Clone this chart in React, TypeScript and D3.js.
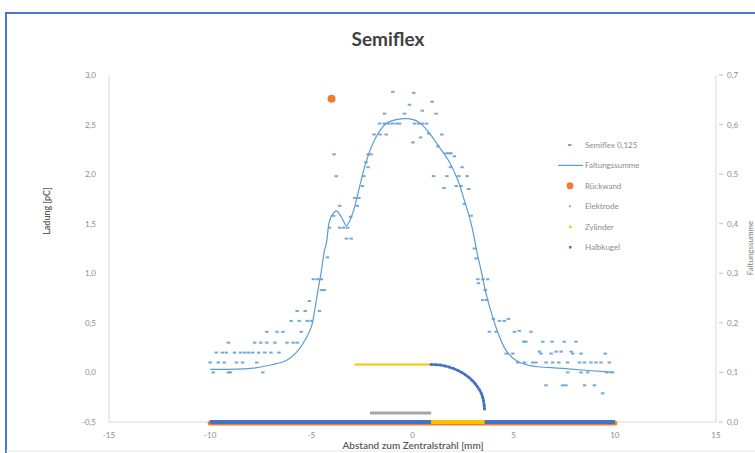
import React from 'react';
import * as d3 from 'd3';

// Semiflex 0,125 measured points
const measX = [
  -9.85, -9.1, -9.0, -7.4,
  -10, -9.6, -9.3, -8.7, -8.4, -7.7,
  -9.7, -9.4, -9.2, -8.8, -8.5, -8.3, -8.1, -7.9, -7.6, -7.3, -7.0, -6.6,
  -9.1, -7.8, -7.5, -7.2, -6.8, -6.2, -5.9, -5.7,
  -7.2, -6.7, -6.4, -5.5,
  -6.0, -5.6, -5.2, -5.0,
  -5.7, -5.3, -4.6,
  -5.1, -4.5, -4.35,
  -4.9, -4.7, -4.5, -4.2,
  -4.1, -3.6, -3.4, -3.2, -3.27, -3.03,
  -3.9, -3.06, -3.6, -2.73, -2.86, -2.65, -2.48,
  -3.77, -2.4, -2.2, -2.3, -3.88, -2.2, -2.05,
  -1.9, -1.6, -1.3,
  -1.63, -1.4, -1.2, -1.0, -0.8, -0.64, 0.1, 0.3, 0.5, 0.7,
  -1.38, -0.4, 1.17, 0.48, -0.15, 0.97, -0.97, 0.06,
  0.02, 0.4, 0.8, 1.45, 1.25,
  1.66, 1.8, 1.9, 2.07, 1.88, 2.45,
  1.04, 1.7, 2.29, 2.7, 2.16, 2.4, 1.55, 2.78,
  2.57, 2.9, 3.06, 3.14,
  3.23, 3.48, 3.72, 3.26, 3.6, 3.47, 3.67,
  4.0, 4.3, 4.54, 4.74,
  3.8, 4.13, 5.04, 5.28, 5.86,
  5.5, 5.6, 6.44, 6.9, 7.5, 8.08,
  4.63, 4.96, 6.27, 6.35, 6.85, 7.1, 7.35, 7.84, 7.92, 8.33, 9.53,
  5.2, 5.53, 5.94, 6.1, 6.6, 6.93, 7.23, 7.67, 8.25, 8.5, 8.82, 9.07, 9.32, 9.73,
  7.67, 8.33, 8.66, 9.6, 9.85,
  6.6, 7.42, 7.58, 8.5, 8.99, 9.4,
];
const measY = [
  0.0, 0.0, 0.0, 0.0,
  0.1, 0.1, 0.1, 0.1, 0.1, 0.1,
  0.2, 0.2, 0.2, 0.2, 0.2, 0.2, 0.2, 0.2, 0.2, 0.2, 0.2, 0.2,
  0.3, 0.3, 0.3, 0.3, 0.3, 0.3, 0.3, 0.3,
  0.41, 0.41, 0.41, 0.41,
  0.52, 0.52, 0.52, 0.52,
  0.62, 0.62, 0.62,
  0.72, 0.83, 0.83,
  0.94, 0.94, 0.94, 1.16,
  1.46, 1.46, 1.46, 1.46, 1.35, 1.35,
  1.58, 1.57, 1.68, 1.68, 1.76, 1.76, 1.88,
  1.98, 1.98, 2.07, 2.12, 2.2, 2.2, 2.2,
  2.4, 2.4, 2.4,
  2.51, 2.51, 2.51, 2.51, 2.51, 2.51, 2.51, 2.51, 2.51, 2.51,
  2.61, 2.61, 2.61, 2.64, 2.7, 2.73, 2.83, 2.82,
  2.32, 2.37, 2.41, 2.4, 2.28,
  2.21, 2.21, 2.21, 2.18, 2.07, 2.07,
  1.98, 1.98, 1.98, 1.98, 1.88, 1.88, 1.86, 1.85,
  1.7, 1.58, 1.25, 1.15,
  0.94, 0.94, 0.94, 0.9, 0.83, 0.73, 0.73,
  0.54, 0.52, 0.52, 0.54,
  0.41, 0.41, 0.41, 0.42, 0.41,
  0.31, 0.31, 0.31, 0.31, 0.31, 0.31,
  0.19, 0.19, 0.21, 0.19, 0.19, 0.21, 0.21, 0.21, 0.19, 0.19, 0.19,
  0.1, 0.1, 0.1, 0.1, 0.1, 0.1, 0.1, 0.1, 0.1, 0.1, 0.1, 0.1, 0.1, 0.1,
  0.0, 0.0, 0.0, 0.0, 0.0,
  -0.13, -0.13, -0.13, -0.13, -0.13, -0.21,
];

// Faltungssumme curve
const faltX = [-10, -8, -6.9, -6.24, -5.75, -5.33, -5.0, -4.84, -4.67, -4.5, -4.35, -4.26, -4.1, -3.94, -3.77, -3.52, -3.27, -3.1, -2.86, -2.62, -2.37, -2.04, -1.7, -1.3, -0.8, -0.23, 0.18, 0.51, 0.92, 1.33, 1.83, 2.24, 2.57, 2.9, 3.2, 3.4, 3.64, 3.96, 4.3, 4.63, 5.12, 5.78, 7.42, 9.98];
const faltY = [0.03, 0.04, 0.08, 0.12, 0.2, 0.32, 0.46, 0.62, 0.83, 1.03, 1.23, 1.3, 1.53, 1.6, 1.63, 1.57, 1.48, 1.53, 1.67, 1.87, 2.07, 2.27, 2.41, 2.51, 2.55, 2.56, 2.54, 2.49, 2.39, 2.27, 2.12, 1.94, 1.73, 1.5, 1.2, 1.02, 0.79, 0.56, 0.36, 0.22, 0.12, 0.07, 0.04, 0.0];

// geometry
const rueckwandX = [-4.0];
const rueckwandY = [2.76];
const rueckwandBarX = [-10, 10];
const rueckwandBarY = [-0.51, -0.51];
const elektrodeX = [-2.1, 0.92];
const elektrodeY = [-0.41, -0.41];
const zylinderX = [-2.86, 0.92];
const zylinderY = [0.08, 0.08];
const zylinderBarX = [0.92, 3.56];
const zylinderBarY = [-0.5, -0.5];
const halbkugelX = [0.92, 1.15, 1.38, 1.6, 1.82, 2.03, 2.24, 2.43, 2.61, 2.78, 2.94, 3.08, 3.2, 3.31, 3.4, 3.47, 3.51, 3.54, 3.56];
const halbkugelY = [0.08, 0.078, 0.074, 0.066, 0.054, 0.039, 0.021, 0.0, -0.023, -0.049, -0.078, -0.108, -0.141, -0.175, -0.21, -0.25, -0.286, -0.33, -0.37];
const halbkugelBarLX = [-10, 0.92];
const halbkugelBarRX = [3.56, 10];
const halbkugelBarY = [-0.5, -0.5];

const xTicks = [-15, -10, -5, 0, 5, 10, 15];
const yTicks = [-0.5, 0, 0.5, 1, 1.5, 2, 2.5, 3];
const y2Ticks = [0, 0.1, 0.2, 0.3, 0.4, 0.5, 0.6, 0.7];

const legendItems = ['Semiflex 0,125', 'Faltungssumme', 'Rückwand', 'Elektrode', 'Zylinder', 'Halbkugel'];

const BLUE_LIGHT = '#5b9bd5';
const ORANGE = '#ed7d31';
const GRAY = '#a5a5a5';
const YELLOW = '#ffc000';
const BLUE = '#4472c4';
const FONT = 'Lato, "Open Sans", sans-serif';

const W = 755, H = 453;

export default function App() {
  const x = d3.scaleLinear().domain([-15, 15]).range([109, 716]);
  const y = d3.scaleLinear().domain([-0.5, 3]).range([422, 75]);
  const y2 = d3.scaleLinear().domain([0, 0.7]).range([422, 75]);

  const fmt = (v: number) => d3.format('.1f')(v).replace('.', ',').replace('\u2212', '-');
  const fmtX = (v: number) => d3.format('d')(v).replace('\u2212', '-');

  const line = d3.line<[number, number]>().x(d => x(d[0])).y(d => y(d[1]));
  const smooth = d3.line<[number, number]>().x(d => x(d[0])).y(d => y(d[1])).curve(d3.curveCatmullRom);
  const pts = (xs: number[], ys: number[]) => xs.map((v, i) => [v, ys[i]] as [number, number]);

  return (
    <svg width={W} height={H} style={{ position: 'fixed', left: 0, top: 0, background: '#fff' }} fontFamily={FONT}>
      <rect x={0} y={0} width={W} height={H} fill="#fff" />
      {/* chart frame */}
      <line x1={5} x2={W} y1={13} y2={13} stroke="#4a78c8" strokeWidth={2} />
      <line x1={6} x2={6} y1={13} y2={H} stroke="#4a78c8" strokeWidth={2} />
      <line x1={6} x2={W} y1={451} y2={451} stroke="#e6e6e6" strokeWidth={1} />

      <text x={388} y={46} textAnchor="middle" fontSize={19} fontWeight={700} fill="#404040">Semiflex</text>

      {/* axes */}
      <line x1={x(-15)} x2={x(-15)} y1={y(3)} y2={y(-0.5)} stroke="#d9d9d9" />
      <line x1={x(15)} x2={x(15)} y1={y(3)} y2={y(-0.5)} stroke="#d9d9d9" />
      <line x1={x(-15)} x2={x(15)} y1={y(-0.5)} y2={y(-0.5)} stroke="#d9d9d9" />
      {yTicks.map(t => (
        <text key={'y' + t} x={96} y={y(t) + 3} textAnchor="end" fontSize={8} fill="#8c8c8c">{fmt(t)}</text>
      ))}
      {y2Ticks.map(t => (
        <g key={'y2' + t}>
          <line x1={719} x2={723} y1={y2(t)} y2={y2(t)} stroke="#bfbfbf" />
          <text x={727} y={y2(t) + 3} fontSize={8} fill="#8c8c8c">{fmt(t)}</text>
        </g>
      ))}
      {xTicks.map(t => (
        <text key={'x' + t} x={x(t)} y={438} textAnchor="middle" fontSize={8} fill="#8c8c8c">{fmtX(t)}</text>
      ))}
      <text x={413} y={449} textAnchor="middle" fontSize={10} fontWeight={600} fill="#595959">Abstand zum Zentralstrahl [mm]</text>
      <text transform={`translate(50,211) rotate(-90)`} textAnchor="middle" fontSize={9} fontWeight={600} fill="#595959">Ladung  [pC]</text>
      <text transform={`translate(753,248) rotate(-90)`} textAnchor="middle" fontSize={8} fill="#7f7f7f">Faltungssumme</text>

      {/* bottom geometry bars */}
      <path d={line(pts(rueckwandBarX, rueckwandBarY)) || ''} stroke={ORANGE} strokeWidth={5} strokeLinecap="round" fill="none" />
      <path d={line(pts(halbkugelBarLX, halbkugelBarY)) || ''} stroke={BLUE} strokeWidth={4} fill="none" />
      <path d={line(pts(halbkugelBarRX, halbkugelBarY)) || ''} stroke={BLUE} strokeWidth={4} fill="none" />
      <path d={line(pts(zylinderBarX, zylinderBarY)) || ''} stroke={YELLOW} strokeWidth={4} fill="none" />

      {/* geometry */}
      <path d={line(pts(elektrodeX, elektrodeY)) || ''} stroke={GRAY} strokeWidth={3} fill="none" />
      <path d={line(pts(zylinderX, zylinderY)) || ''} stroke={YELLOW} strokeWidth={2} fill="none" />
      <path d={line(pts(halbkugelX, halbkugelY)) || ''} stroke={BLUE} strokeWidth={2.5} fill="none" />
      {halbkugelX.map((v, i) => (
        <circle key={'hk' + i} cx={x(v)} cy={y(halbkugelY[i])} r={1.5} fill={BLUE} />
      ))}

      {/* Faltungssumme */}
      <path d={smooth(pts(faltX, faltY)) || ''} stroke={BLUE_LIGHT} strokeWidth={1.2} fill="none" />

      {/* measured points */}
      {measX.map((v, i) => (
        <rect key={'m' + i} x={x(v) - 1.75} y={y(measY[i]) - 1} width={3.5} height={2} fill={BLUE_LIGHT} opacity={0.85} />
      ))}

      {/* Rückwand point */}
      {rueckwandX.map((v, i) => (
        <circle key={'rw' + i} cx={x(v)} cy={y(rueckwandY[i])} r={4} fill={ORANGE} />
      ))}

      {/* legend */}
      {legendItems.map((name, i) => {
        const ly = 145 + i * 20.4;
        return (
          <g key={name}>
            {i === 0 && <rect x={568} y={ly - 1} width={3.5} height={2} fill={BLUE_LIGHT} opacity={0.85} />}
            {i === 1 && <line x1={558} x2={583} y1={ly} y2={ly} stroke={BLUE_LIGHT} strokeWidth={1.2} />}
            {i === 2 && <circle cx={570} cy={ly} r={3.5} fill={ORANGE} />}
            {i === 3 && <rect x={569} y={ly - 1} width={2} height={2} fill={GRAY} />}
            {i === 4 && <rect x={569} y={ly - 1} width={2.5} height={2.5} fill={YELLOW} />}
            {i === 5 && <rect x={569} y={ly - 1} width={2.5} height={2.5} fill={BLUE} />}
            <text x={585} y={ly + 3} fontSize={8} fill="#8c8c8c">{name}</text>
          </g>
        );
      })}
    </svg>
  );
}
